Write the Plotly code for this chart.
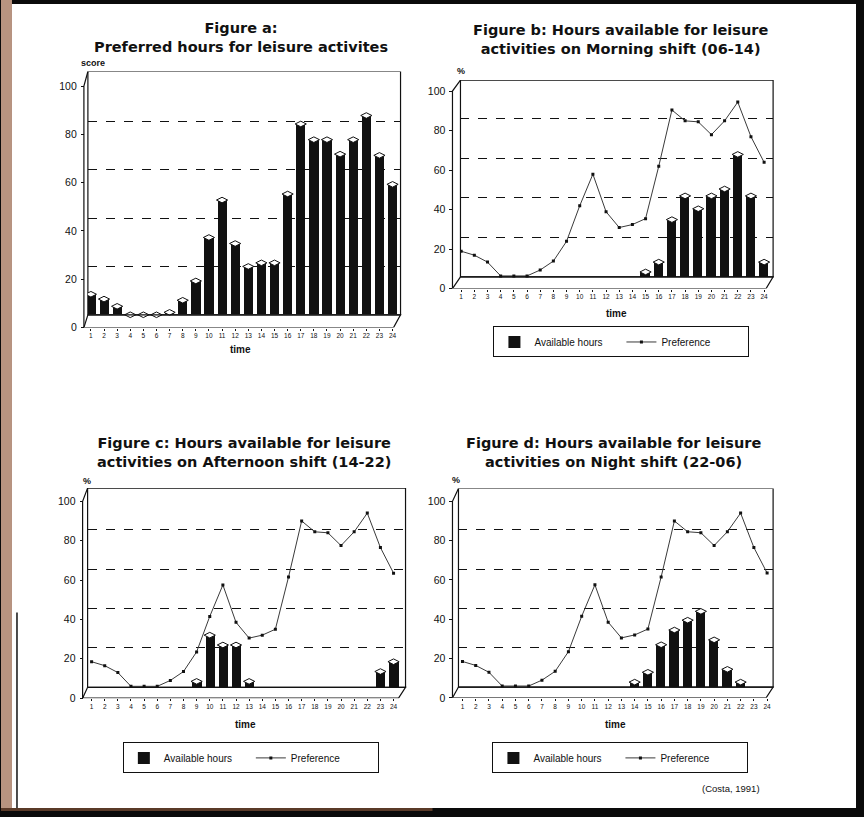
import plotly.graph_objects as go

W, H = 864, 817

# ---- data -------------------------------------------------------------
hours = list(range(1, 25))
hour_labels = [str(h) for h in hours]

# Figure a: preferred hours for leisure activities (score)
preferred_score = [8.5, 6.5, 3.5, 0, 0, 0, 1, 6, 14, 32, 47.5, 29.5,
                   20, 21.5, 21.5, 50, 79, 72.5, 72.5, 66.5, 72.5, 82.5, 66, 54]

# Preference curve (%), repeated on figures b-d
preference_pct = [13, 11, 7.5, 0.5, 0.5, 0.5, 3.5, 8, 18, 36, 52, 33,
                  25, 26.5, 29.5, 56, 84.5, 79, 78.5, 72, 79, 88.5, 71, 58]

# Hours available for leisure (%), by shift
morning_hours = [15, 16, 17, 18, 19, 20, 21, 22, 23, 24]
morning_avail = [2.5, 7.5, 29, 41, 34.5, 41, 44.5, 62, 41, 7.5]

afternoon_hours = [9, 10, 11, 12, 13, 23, 24]
afternoon_avail = [3, 26.5, 21.5, 21.5, 3, 8, 13]

night_hours = [14, 15, 16, 17, 18, 19, 20, 21, 22]
night_avail = [2.5, 7.5, 21.5, 29, 34, 38.5, 24, 9, 2.5]

y_ticks = [0, 20, 40, 60, 80, 100]
grid_ticks = [20, 40, 60, 80]

# ---- page geometry (pixels) ------------------------------------------
panels = [
    dict(title="Figure a:<br>Preferred hours for leisure activites", tx=240, ty=38,
         unit="score", ux=92, uy=63, front=83, wl=87, wr=400, fr=393,
         y0=330, y100=86.7, ytop=72, t1=90, t24=392, off=5.3,
         timex=240, timey=352, legend=None),
    dict(title="Figure b: Hours available for leisure<br>activities on Morning shift (06-14)",
         tx=620, ty=40, unit="%", ux=461, uy=72, front=452, wl=460, wr=773, fr=766,
         y0=290.7, y100=91.7, ytop=80.7, t1=460.7, t24=764, off=5.9,
         timex=616, timey=316, legend=(493, 344.5)),
    dict(title="Figure c: Hours available for leisure<br>activities on Afternoon shift (14-22)",
         tx=243, ty=456, unit="%", ux=86, uy=485, front=81.7, wl=86.7, wr=405, fr=398,
         y0=703.3, y100=505, ytop=491.7, t1=90.7, t24=393, off=5.5,
         timex=245, timey=730, legend=(122, 763.5)),
    dict(title="Figure d: Hours available for leisure<br>activities on Night shift (22-06)",
         tx=613, ty=456, unit="%", ux=456, uy=484, front=452, wl=458, wr=773, fr=766,
         y0=703, y100=505, ytop=492, t1=462, t24=767, off=5.5,
         timex=615, timey=730, legend=(492, 763.5)),
]


def fy(py):
    """Paper fraction for a pixel row measured from the top of the page."""
    return 1 - py / H


def fx(px):
    return px / W


BLACK = "#111111"
TITLE_FONT = dict(family="DejaVu Sans", size=14.5, color=BLACK)
LABEL_FONT = dict(family="Liberation Sans", size=10.5, color=BLACK)

fig = go.Figure()
layout = {}
shapes = []
annotations = []


def ax_name(kind, n):
    return kind if n == 1 else f"{kind}{n}"


series = [
    (hours, preferred_score, False),
    (morning_hours, morning_avail, True),
    (afternoon_hours, afternoon_avail, True),
    (night_hours, night_avail, True),
]

for i, (p, (bx, by, with_pref)) in enumerate(zip(panels, series), start=1):
    xa = ax_name("x", i)
    yb = ax_name("y", 2 * i - 1)       # back wall scale (data)
    yf = ax_name("y", 2 * i)           # front scale (labels)
    leg = ax_name("legend", i - 1) if p["legend"] else None

    k = (p["t24"] - p["t1"]) / 23.0
    r0 = 1 - (p["t1"] - p["wl"]) / k
    r1 = r0 + (p["wr"] - p["wl"]) / k
    top = 100 * (p["y0"] - p["ytop"]) / (p["y0"] - p["y100"])
    off = p["off"]
    ydom = [fy(p["y0"]), fy(p["ytop"])]

    layout[xa.replace("x", "xaxis")] = dict(
        domain=[fx(p["wl"]), fx(p["wr"])], range=[r0, r1], anchor=yb,
        tickmode="array", tickvals=hours, ticktext=hour_labels,
        ticks="outside", ticklen=2, tickcolor=BLACK, tickwidth=1,
        tickfont=dict(family="Liberation Sans", size=6.5, color=BLACK),
        showgrid=False, zeroline=False, showline=False, fixedrange=True,
    )
    layout[yb.replace("y", "yaxis")] = dict(
        domain=ydom, range=[-off, top - off], anchor=xa,
        tickmode="array", tickvals=grid_ticks, showticklabels=False,
        showgrid=True, griddash="dash", gridcolor=BLACK, gridwidth=1.2,
        zeroline=False, showline=False, fixedrange=True,
    )
    layout[yf.replace("y", "yaxis")] = dict(
        domain=ydom, range=[0, top], overlaying=yb, anchor="free",
        position=fx(p["front"]), side="left",
        tickmode="array", tickvals=y_ticks, ticks="outside", ticklen=3,
        tickcolor=BLACK, tickfont=LABEL_FONT, ticklabelstandoff=2,
        showgrid=False, zeroline=False, showline=False, fixedrange=True,
    )
    # empty trace so the front scale is rendered
    fig.add_trace(go.Scatter(x=[], y=[], xaxis=xa, yaxis=yf,
                             showlegend=False, hoverinfo="skip"))

    # back wall, floor and front edge
    wl_dom = (p["front"] - p["wl"]) / (p["wr"] - p["wl"])
    fr_dom = (p["fr"] - p["wl"]) / (p["wr"] - p["wl"])
    line = dict(color=BLACK, width=1.2)
    shapes.append(dict(type="rect", xref=f"{xa} domain", yref=yb,
                       x0=0, x1=1, y0=0, y1=top - off, line=line, layer="below"))
    shapes.append(dict(type="path", xref=f"{xa} domain", yref=yb,
                       path=f"M {wl_dom},{-off} L {fr_dom},{-off} L 1,0 L 0,0 Z",
                       line=line))
    shapes.append(dict(type="path", xref=f"{xa} domain", yref=yb,
                       path=f"M {wl_dom},{-off} L {wl_dom},{100 - off} L 0,{top - off}",
                       line=line))

    fig.add_trace(go.Bar(
        x=bx, y=by, width=0.7, name="Available hours",
        marker=dict(color=BLACK, line=dict(width=0)),
        xaxis=xa, yaxis=yb, showlegend=leg is not None,
        legend=leg or "legend", hoverinfo="skip",
    ))
    # cylinder caps on the bars
    fig.add_trace(go.Scatter(
        x=bx, y=by, mode="markers",
        marker=dict(symbol="diamond-wide", size=8, color="white",
                    line=dict(color=BLACK, width=1)),
        xaxis=xa, yaxis=yb, showlegend=False, hoverinfo="skip",
    ))
    if with_pref:
        fig.add_trace(go.Scatter(
            x=hours, y=preference_pct, mode="lines+markers", name="Preference",
            line=dict(color="#3a3a3a", width=1),
            marker=dict(symbol="square", size=3, color=BLACK),
            xaxis=xa, yaxis=yb, legend=leg, hoverinfo="skip",
        ))
        lx, ly = p["legend"]
        layout[leg] = dict(
            x=fx(lx), y=fy(ly), xanchor="left", yanchor="middle",
            orientation="h", bgcolor="white", bordercolor=BLACK, borderwidth=1,
            font=dict(family="Liberation Sans", size=10, color=BLACK),
            entrywidth=82,
        )

    annotations += [
        dict(text=f"<b>{p['title']}</b>", x=fx(p["tx"]), y=fy(p["ty"]),
             xref="paper", yref="paper", showarrow=False, font=TITLE_FONT,
             xanchor="center", yanchor="middle", align="center"),
        dict(text=f"<b>{p['unit']}</b>", x=fx(p["ux"]), y=fy(p["uy"]),
             xref="paper", yref="paper", showarrow=False, xanchor="center",
             yanchor="middle", font=dict(family="Liberation Sans", size=9, color=BLACK)),
        dict(text="<b>time</b>", x=fx(p["timex"]), y=fy(p["timey"]),
             xref="paper", yref="paper", showarrow=False, xanchor="center",
             yanchor="middle", font=dict(family="Liberation Sans", size=10, color=BLACK)),
    ]

annotations.append(dict(text="(Costa, 1991)", x=fx(731), y=fy(794),
                        xref="paper", yref="paper", showarrow=False,
                        xanchor="center", yanchor="middle",
                        font=dict(family="Liberation Sans", size=9.5, color=BLACK)))

# page edges: white sheet on a dark background, tinted strip on the left
shapes = [
    dict(type="rect", xref="paper", yref="paper", x0=0, x1=fx(11), y0=0, y1=1,
         fillcolor="#b89480", line=dict(width=0), layer="below"),
    dict(type="rect", xref="paper", yref="paper", x0=0, x1=0.5, y0=0, y1=fy(814),
         fillcolor="#5a3a28", line=dict(width=0), layer="below"),
    dict(type="rect", xref="paper", yref="paper", x0=fx(11), x1=fx(856),
         y0=fy(814), y1=fy(4), fillcolor="white", line=dict(width=0),
         layer="below"),
    dict(type="line", xref="paper", yref="paper", x0=fx(16), x1=fx(16),
         y0=fy(814), y1=fy(617), line=dict(color=BLACK, width=1.5)),
] + shapes

fig.update_layout(
    width=W, height=H, margin=dict(l=0, r=0, t=0, b=0),
    paper_bgcolor="#0a0a0a", plot_bgcolor="rgba(0,0,0,0)",
    showlegend=True, barmode="overlay", bargap=0,
    shapes=shapes, annotations=annotations, **layout,
)

fig.write_html("out.html")
